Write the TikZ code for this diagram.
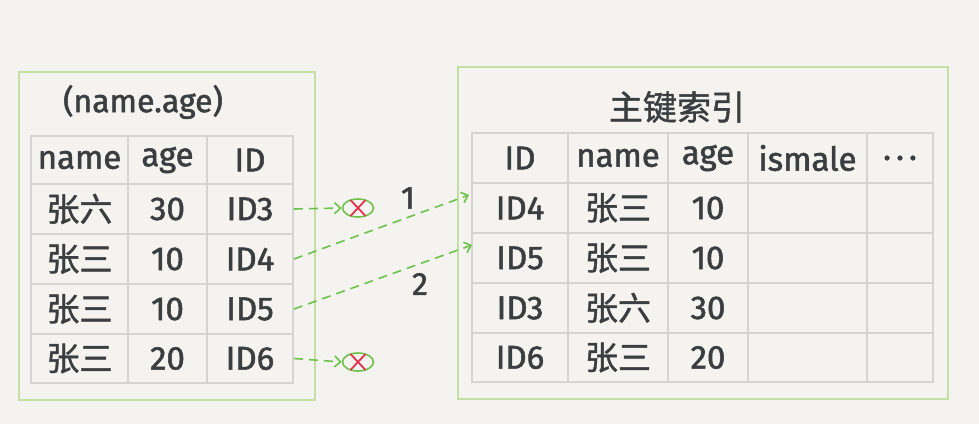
\documentclass[tikz,border=0pt]{standalone}
\usepackage{fontspec}
\setmainfont{Fira Sans}[FakeBold=1.6]
\newfontfamily\cjk{Noto Sans CJK SC}[FakeBold=1.2]
\usetikzlibrary{arrows.meta,shapes.geometric,shapes.misc}
\definecolor{bgc}{HTML}{F4F3EF}
\definecolor{boxgreen}{HTML}{C2E0A4}
\definecolor{gridc}{HTML}{D4D4D2}
\definecolor{ink}{HTML}{3B3E40}
\definecolor{arrowgreen}{HTML}{6CC24A}
\definecolor{xred}{HTML}{E0334C}
\newcommand\mkcell[6]{\node[cell,minimum width={#4-#2},minimum height={#5-#3}] (#1) at ({(#2+#4)/2},{(#3+#5)/2}) {#6};}
\begin{document}
\begin{tikzpicture}[x=1pt,y=-1pt,
  cell/.style={draw=gridc,line width=1.8pt,inner sep=0pt,text=ink,font=\fontsize{33}{37}\selectfont},
  outerbox/.style={draw=boxgreen,line width=2pt,inner sep=0pt},
  title/.style={text=ink,inner sep=0pt,font=\fontsize{32}{36}\selectfont},
  numlabel/.style={text=ink,inner sep=0pt,font=\fontsize{32}{36}\selectfont},
  dasharrow/.style={draw=arrowgreen,line width=1.6pt,dash pattern=on 9pt off 6pt,-{Straight Barb[length=6pt,width=11pt]}},
  xoval/.style={ellipse,draw=arrowgreen,line width=1.6pt,minimum width=31pt,minimum height=18pt,inner sep=0pt},
  xmark/.style={cross out,draw=xred,line width=1.8pt,minimum width=13pt,minimum height=14pt,inner sep=0pt}]
\fill[bgc] (0,0) rectangle (979,424);
\useasboundingbox (0,0) rectangle (979,424);
% outer boxes
\node[outerbox,minimum width=296,minimum height=328] (LB) at (167,236) {};
\node[outerbox,minimum width=490,minimum height=332] (RB) at (703,233) {};
\node[title] (LT) at (143,102) {(name.age)};
\node[title,font=\cjk\fontsize{34}{38}\selectfont] (RT) at (677,107) {主键索引};
% left table
\mkcell{L-0-1}{31}{136}{128}{184}{name}
\mkcell{L-0-2}{128}{136}{207}{184}{age}
\mkcell{L-0-3}{207}{136}{293}{184}{ID}
\mkcell{L-1-1}{31}{184}{128}{234}{\cjk 张六}
\mkcell{L-1-2}{128}{184}{207}{234}{30}
\mkcell{L-1-3}{207}{184}{293}{234}{ID3}
\mkcell{L-2-1}{31}{234}{128}{284}{\cjk 张三}
\mkcell{L-2-2}{128}{234}{207}{284}{10}
\mkcell{L-2-3}{207}{234}{293}{284}{ID4}
\mkcell{L-3-1}{31}{284}{128}{334}{\cjk 张三}
\mkcell{L-3-2}{128}{284}{207}{334}{10}
\mkcell{L-3-3}{207}{284}{293}{334}{ID5}
\mkcell{L-4-1}{31}{334}{128}{383}{\cjk 张三}
\mkcell{L-4-2}{128}{334}{207}{383}{20}
\mkcell{L-4-3}{207}{334}{293}{383}{ID6}
% right table
\mkcell{R-0-1}{472}{133}{568}{183}{ID}
\mkcell{R-0-2}{568}{133}{668}{183}{name}
\mkcell{R-0-3}{668}{133}{748}{183}{age}
\mkcell{R-0-4}{748}{133}{867}{183}{ismale}
\mkcell{R-0-5}{867}{133}{933}{183}{.\hspace{5pt}.\hspace{5pt}.}
\mkcell{R-1-1}{472}{183}{568}{233}{ID4}
\mkcell{R-1-2}{568}{183}{668}{233}{\cjk 张三}
\mkcell{R-1-3}{668}{183}{748}{233}{10}
\mkcell{R-1-4}{748}{183}{867}{233}{}
\mkcell{R-1-5}{867}{183}{933}{233}{}
\mkcell{R-2-1}{472}{233}{568}{283}{ID5}
\mkcell{R-2-2}{568}{233}{668}{283}{\cjk 张三}
\mkcell{R-2-3}{668}{233}{748}{283}{10}
\mkcell{R-2-4}{748}{233}{867}{283}{}
\mkcell{R-2-5}{867}{233}{933}{283}{}
\mkcell{R-3-1}{472}{283}{568}{333}{ID3}
\mkcell{R-3-2}{568}{283}{668}{333}{\cjk 张六}
\mkcell{R-3-3}{668}{283}{748}{333}{30}
\mkcell{R-3-4}{748}{283}{867}{333}{}
\mkcell{R-3-5}{867}{283}{933}{333}{}
\mkcell{R-4-1}{472}{333}{568}{382}{ID6}
\mkcell{R-4-2}{568}{333}{668}{382}{\cjk 张三}
\mkcell{R-4-3}{668}{333}{748}{382}{20}
\mkcell{R-4-4}{748}{333}{867}{382}{}
\mkcell{R-4-5}{867}{333}{933}{382}{}
% rejected markers
\node[xoval] (X1) at (358,208) {};
\node[xmark] (X1c) at (X1) {};
\node[xoval] (X2) at (358,362) {};
\node[xmark] (X2c) at (X2) {};
% arrows
\coordinate (T1) at (469,195);
\coordinate (T2) at (472,245);
\draw[dasharrow] (L-1-3.east) -- (X1.west);
\draw[dasharrow] (L-4-3.east) -- (X2.west);
\draw[dasharrow] (L-2-3.east) -- (T1);
\draw[dasharrow] (L-3-3.east) -- (T2);
\node[numlabel] (N1) at (408,198) {1};
\node[numlabel] (N2) at (420,284) {2};
\end{tikzpicture}
\end{document}
